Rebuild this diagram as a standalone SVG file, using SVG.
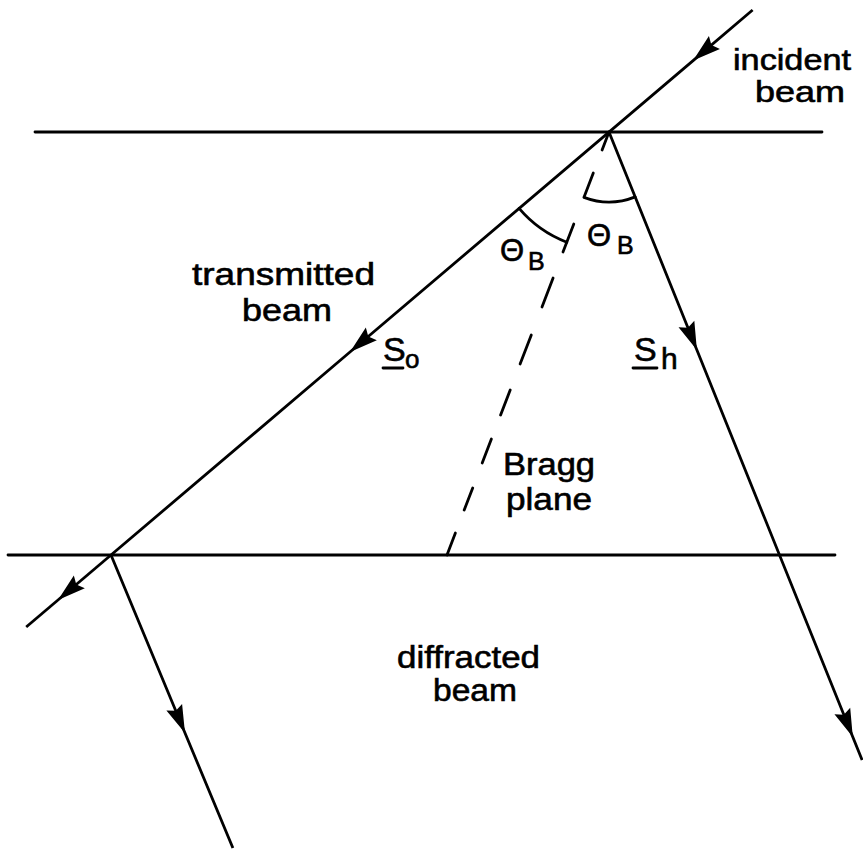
<svg xmlns="http://www.w3.org/2000/svg" width="863" height="850" viewBox="0 0 863 850">
<style>
.ln{stroke:#000;stroke-width:2.8;fill:none;stroke-linecap:round}
.beam{stroke:#000;stroke-width:2.8;fill:none;marker-mid:url(#ah)}
.t{font-family:"Liberation Sans",Arial,Helvetica,sans-serif;font-size:31px;fill:#000;stroke:#000;stroke-width:0.6}
.sub{font-family:"Liberation Sans",Arial,Helvetica,sans-serif;font-size:25px;fill:#000;stroke:#000;stroke-width:0.6}
</style>
<defs>
<marker id="ah" markerUnits="userSpaceOnUse" markerWidth="32" markerHeight="22" viewBox="-30 -11 32 22" refX="0" refY="0" orient="auto">
<path d="M0,0 L-28,-8.5 L-24,0 L-28,8.5 Z" fill="#000"/>
</marker>
</defs>
<rect width="863" height="850" fill="#fff"/>
<g id="crystal-surfaces">
<line class="ln" x1="35" y1="132" x2="822" y2="132"/>
<line class="ln" x1="8" y1="555" x2="835" y2="555"/>
</g>
<g id="connectors">
<path class="beam" d="M752.6,10 L693.1,60.6 L350,352 L111,555"/>
<path class="beam" d="M111,555 L58,600 L26.2,627"/>
<path class="beam" d="M609,132 L696.9,350 L852.8,737 L862.1,760"/>
<path class="beam" d="M111,555 L185,733 L232.9,848"/>
</g>
<g id="bragg-plane" class="ln">
<line x1="447" y1="555" x2="455.4" y2="533"/>
<line x1="464.2" y1="510" x2="472.7" y2="488"/>
<line x1="482.2" y1="463" x2="491.4" y2="439"/>
<line x1="500.6" y1="415" x2="510.2" y2="390"/>
<line x1="520.1" y1="364" x2="531.3" y2="335"/>
<line x1="542" y1="307" x2="553.1" y2="278"/>
<line x1="563" y1="252" x2="573.8" y2="224"/>
<line x1="584.1" y1="197" x2="593.3" y2="173"/>
<line x1="602.1" y1="150" x2="609" y2="132"/>
</g>
<g id="angle-arcs" class="ln">
<path d="M519.1,208.4 A118,118 0 0 0 566.8,242.2"/>
<path d="M584,197.4 A70,70 0 0 0 635.2,196.9"/>
</g>
<g id="label-incident">
<text class="t" x="733" y="70" style="font-size:29px" textLength="118" lengthAdjust="spacingAndGlyphs">incident</text>
<text class="t" x="755" y="102" style="font-size:29px" textLength="90" lengthAdjust="spacingAndGlyphs">beam</text>
</g>
<g id="label-transmitted">
<text class="t" x="192" y="285" textLength="183" lengthAdjust="spacingAndGlyphs">transmitted</text>
<text class="t" x="242" y="321" textLength="90" lengthAdjust="spacingAndGlyphs">beam</text>
</g>
<g id="label-bragg">
<text class="t" x="503" y="475" textLength="92" lengthAdjust="spacingAndGlyphs">Bragg</text>
<text class="t" x="506" y="510" textLength="86" lengthAdjust="spacingAndGlyphs">plane</text>
</g>
<g id="label-diffracted">
<text class="t" x="397" y="668" textLength="143" lengthAdjust="spacingAndGlyphs">diffracted</text>
<text class="t" x="433" y="701" textLength="84" lengthAdjust="spacingAndGlyphs">beam</text>
</g>
<g id="label-theta-left">
<text class="t" x="500" y="261">Θ</text>
<text class="sub" x="528" y="270">B</text>
</g>
<g id="label-theta-right">
<text class="t" x="587" y="246">Θ</text>
<text class="sub" x="617" y="254">B</text>
</g>
<g id="label-so">
<text class="t" x="383" y="361" style="font-size:34px">S</text>
<line class="ln" x1="383" y1="368" x2="403" y2="368"/>
<text class="sub" x="405" y="368" style="font-size:26px">o</text>
</g>
<g id="label-sh">
<text class="t" x="634" y="361" style="font-size:34px">S</text>
<line class="ln" x1="633" y1="368" x2="657" y2="368"/>
<text class="sub" x="661" y="369" style="font-size:30px">h</text>
</g>
</svg>
